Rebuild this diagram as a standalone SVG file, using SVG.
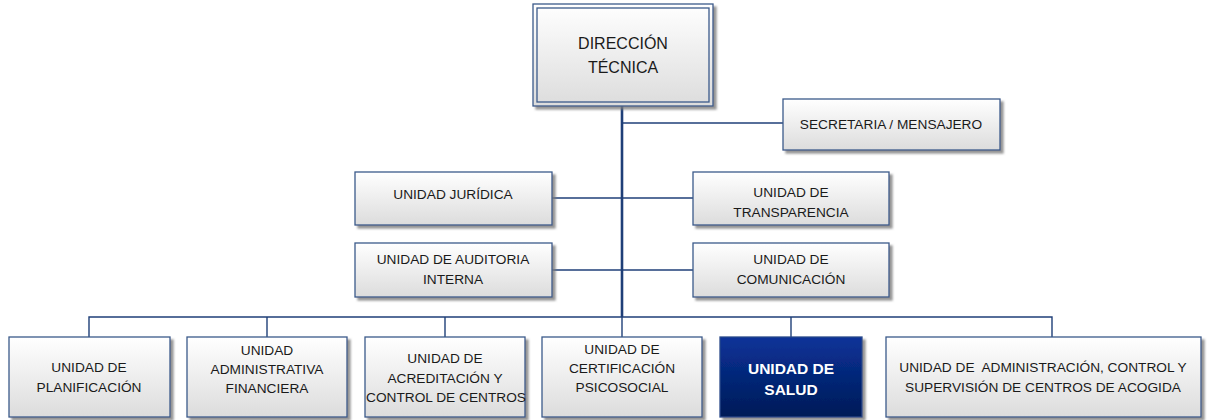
<svg xmlns="http://www.w3.org/2000/svg" width="1218" height="420" viewBox="0 0 1218 420">
<defs>
<linearGradient id="gLight" x1="0" y1="0" x2="0" y2="1">
<stop offset="0" stop-color="#ffffff"/>
<stop offset="1" stop-color="#dcdcdc"/>
</linearGradient>
<linearGradient id="gDark" x1="0" y1="0" x2="0" y2="1">
<stop offset="0" stop-color="#0a3399"/>
<stop offset="1" stop-color="#001a57"/>
</linearGradient>
<filter id="sh" x="-10%" y="-10%" width="130%" height="140%">
<feDropShadow dx="3" dy="3" stdDeviation="1.2" flood-color="#7a7a7a" flood-opacity="0.8"/>
</filter>
</defs>
<style>
.box{fill:url(#gLight);stroke:#3b5a8a;stroke-width:1.3;filter:url(#sh)}
.dark{fill:url(#gDark);stroke:#2a4a8a;stroke-width:1.3;filter:url(#sh)}
.t{font-family:"Liberation Sans",Arial,sans-serif;font-size:13.7px;fill:#1a1a1a;text-anchor:middle}
.tw{font-family:"Liberation Sans",Arial,sans-serif;font-size:15.5px;font-weight:bold;fill:#ffffff;text-anchor:middle}
.tb{font-family:"Liberation Sans",Arial,sans-serif;font-size:16px;fill:#1a1a1a;text-anchor:middle}
.c{fill:none;stroke:#1f3f78;stroke-width:1.4}
.cm{fill:none;stroke:#1f3f78;stroke-width:2.6}
</style>
<rect width="1218" height="420" fill="#ffffff"/>
<g id="connectors">
<line class="cm" x1="622" y1="106" x2="622" y2="317"/>
<line class="c" x1="622" y1="123" x2="783" y2="123"/>
<line class="c" x1="552" y1="198" x2="693" y2="198"/>
<line class="c" x1="552" y1="270" x2="693" y2="270"/>
<polyline class="c" points="89,337 89,317 1052,317 1052,337"/>
<line class="c" x1="267" y1="317" x2="267" y2="337"/>
<line class="c" x1="445" y1="317" x2="445" y2="337"/>
<line class="c" x1="622" y1="317" x2="622" y2="337"/>
<line class="c" x1="791" y1="317" x2="791" y2="337"/>
</g>
<g id="direccion">
<rect class="box" x="533" y="4" width="180" height="102"/>
<rect x="537" y="8" width="172" height="94" fill="none" stroke="#3b5a8a" stroke-width="1.3"/>
<text class="tb" x="623" y="49">DIRECCIÓN</text>
<text class="tb" x="623" y="73">TÉCNICA</text>
</g>
<g id="secretaria">
<rect class="box" x="783" y="99" width="217" height="51"/>
<text class="t" x="891" y="129">SECRETARIA / MENSAJERO</text>
</g>
<g id="juridica">
<rect class="box" x="355" y="172" width="197" height="53"/>
<text class="t" x="453" y="199">UNIDAD JURÍDICA</text>
</g>
<g id="transparencia">
<rect class="box" x="693" y="172" width="196" height="53"/>
<text class="t" x="791" y="197">UNIDAD DE</text>
<text class="t" x="791" y="217">TRANSPARENCIA</text>
</g>
<g id="auditoria">
<rect class="box" x="355" y="243" width="197" height="54"/>
<text class="t" x="453" y="264">UNIDAD DE AUDITORIA</text>
<text class="t" x="453" y="284">INTERNA</text>
</g>
<g id="comunicacion">
<rect class="box" x="693" y="243" width="196" height="54"/>
<text class="t" x="791" y="264">UNIDAD DE</text>
<text class="t" x="791" y="284">COMUNICACIÓN</text>
</g>
<g id="planificacion">
<rect class="box" x="9" y="337" width="161" height="80"/>
<text class="t" x="89" y="372">UNIDAD DE</text>
<text class="t" x="89" y="392">PLANIFICACIÓN</text>
</g>
<g id="administrativa">
<rect class="box" x="187" y="337" width="160" height="80"/>
<text class="t" x="267" y="355">UNIDAD</text>
<text class="t" x="267" y="374">ADMINISTRATIVA</text>
<text class="t" x="267" y="393">FINANCIERA</text>
</g>
<g id="acreditacion">
<rect class="box" x="365" y="337" width="160" height="80"/>
<text class="t" x="445" y="363">UNIDAD DE</text>
<text class="t" x="445" y="383">ACREDITACIÓN Y</text>
<text class="t" x="446" y="402">CONTROL DE CENTROS</text>
</g>
<g id="certificacion">
<rect class="box" x="542" y="337" width="160" height="80"/>
<text class="t" x="622" y="354">UNIDAD DE</text>
<text class="t" x="622" y="373">CERTIFICACIÓN</text>
<text class="t" x="622" y="392">PSICOSOCIAL</text>
</g>
<g id="salud">
<rect class="dark" x="720" y="337" width="142" height="80"/>
<text class="tw" x="791" y="374">UNIDAD DE</text>
<text class="tw" x="791" y="395">SALUD</text>
</g>
<g id="acogida">
<rect class="box" x="886" y="337" width="315" height="80"/>
<text class="t" x="1043" y="372">UNIDAD DE&#160; ADMINISTRACIÓN, CONTROL Y</text>
<text class="t" x="1043" y="392">SUPERVISIÓN DE CENTROS DE ACOGIDA</text>
</g>
</svg>
